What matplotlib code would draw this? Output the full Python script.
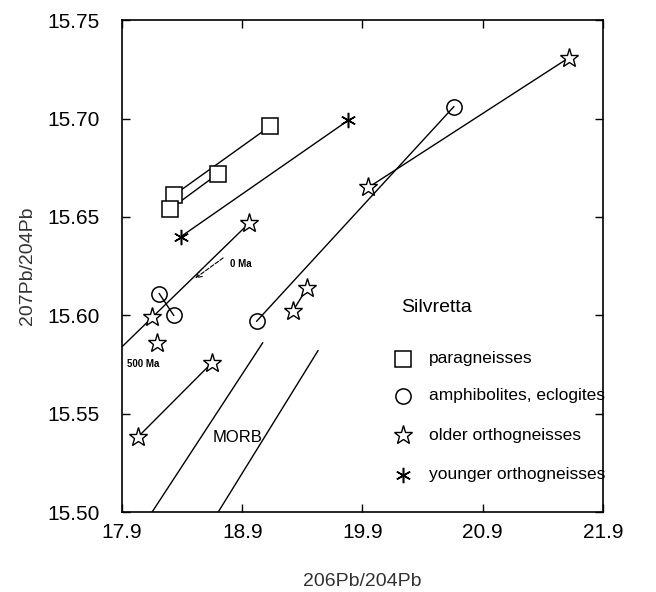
import matplotlib.pyplot as plt

plt.rcParams['font.family'] = ['Liberation Sans', 'DejaVu Sans']

# --- data (206Pb/204Pb, 207Pb/204Pb) ---
para_x = [19.13, 18.70, 18.33, 18.30]
para_y = [15.696, 15.672, 15.661, 15.654]

amph_x = [20.66, 18.21, 18.33, 19.02]
amph_y = [15.706, 15.611, 15.600, 15.597]

older_x = [21.62, 19.95, 18.96, 19.44, 19.32, 18.15, 18.19, 18.65, 18.03]
older_y = [15.731, 15.665, 15.647, 15.614, 15.602, 15.599, 15.586, 15.576, 15.538]

younger_x = [19.78, 18.39]
younger_y = [15.699, 15.640]

# tie lines between sample pairs: ((x0, y0), (x1, y1))
tie_lines = [
    ((18.33, 15.661), (19.13, 15.696)),
    ((18.30, 15.654), (18.70, 15.672)),
    ((18.39, 15.640), (19.78, 15.699)),
    ((19.02, 15.597), (20.66, 15.706)),
    ((19.95, 15.665), (21.62, 15.731)),
    ((18.21, 15.611), (18.33, 15.600)),
    ((19.44, 15.614), (19.32, 15.602)),
    ((18.03, 15.538), (18.65, 15.576)),
]

# reference growth line 0 Ma -> 500 Ma
ref_x = [18.96, 17.90]
ref_y = [15.647, 15.584]

# MORB field boundaries
morb1_x = [19.07, 18.15]
morb1_y = [15.586, 15.500]
morb2_x = [19.53, 18.70]
morb2_y = [15.582, 15.500]

xticks = [17.9, 18.9, 19.9, 20.9, 21.9]
yticks = [15.50, 15.55, 15.60, 15.65, 15.70, 15.75]

leg_labels = ['paragneisses', 'amphibolites, eclogites',
              'older orthogneisses', 'younger orthogneisses']

fig = plt.figure(figsize=(6.56, 5.92), dpi=100)
ax = fig.add_axes([0.186, 0.135, 0.733, 0.831])

lw = 1.0
for (x0, y0), (x1, y1) in tie_lines:
    ax.plot([x0, x1], [y0, y1], color='black', lw=lw)
ax.plot(ref_x, ref_y, color='black', lw=lw)
ax.plot(morb1_x, morb1_y, color='black', lw=lw)
ax.plot(morb2_x, morb2_y, color='black', lw=lw)

ms = 11
ax.plot(para_x, para_y, 's', ms=ms, mfc='white', mec='black', mew=1.1, ls='none')
ax.plot(amph_x, amph_y, 'o', ms=ms, mfc='none', mec='black', mew=1.1, ls='none')
ax.plot(older_x, older_y, '*', ms=ms + 3, mfc='white', mec='black', mew=1.0, ls='none')
ax.plot(younger_x, younger_y, marker=(6, 2, 0), ms=ms, mec='black', mew=1.1, ls='none')

# age annotations
ax.annotate('', xy=(18.49, 15.618), xytext=(18.76, 15.630),
            arrowprops=dict(arrowstyle='->', lw=0.8, ls='--', color='black'))
ax.text(18.80, 15.626, '0 Ma', fontsize=7, fontweight='bold', va='center', ha='left')
ax.text(17.94, 15.575, '500 Ma', fontsize=7, fontweight='bold', va='center', ha='left')
ax.text(18.86, 15.538, 'MORB', fontsize=12, ha='center', va='center')

# legend drawn in data space
ax.text(20.22, 15.604, 'Silvretta', fontsize=14, ha='left', va='center')
leg_y = [15.578, 15.559, 15.539, 15.519]
leg_markers = [dict(marker='s', ms=ms, mfc='white', mew=1.1),
               dict(marker='o', ms=ms, mfc='none', mew=1.1),
               dict(marker='*', ms=ms + 3, mfc='white', mew=1.0),
               dict(marker=(6, 2, 0), ms=ms, mew=1.1)]
for yy, lab, mk in zip(leg_y, leg_labels, leg_markers):
    ax.plot([20.24], [yy], ls='none', mec='black', **mk)
    ax.text(20.45, yy, lab, fontsize=12.5, ha='left', va='center')

ax.set_xlim(17.9, 21.9)
ax.set_ylim(15.50, 15.75)
ax.set_xticks(xticks)
ax.set_xticklabels([f'{t:.1f}' for t in xticks])
ax.set_yticks(yticks)
ax.set_yticklabels([f'{t:.2f}' for t in yticks])
ax.tick_params(direction='in', length=6, width=1, top=True, right=True,
               labelsize=15)
ax.tick_params(axis='x', pad=8)
ax.tick_params(axis='y', pad=16)
for s in ax.spines.values():
    s.set_linewidth(1.2)

ax.set_xlabel('206Pb/204Pb', fontsize=14, color='#333333', labelpad=22)
ax.set_ylabel('207Pb/204Pb', fontsize=14, color='#333333', labelpad=8)

fig.savefig('out.png', dpi=100)
